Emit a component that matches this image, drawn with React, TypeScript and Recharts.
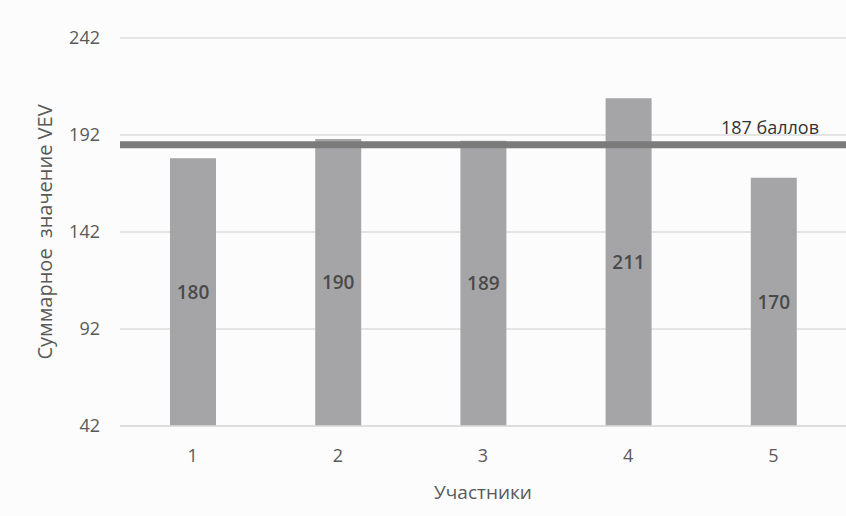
import { BarChart, Bar, XAxis, YAxis, CartesianGrid, ReferenceLine, LabelList } from "recharts";

const participants = ["1", "2", "3", "4", "5"];
const vevTotals = [180, 190, 189, 211, 170];
const yTicks = [42, 92, 142, 192, 242];
const thresholdScore = 187;

const FONT = "'Open Sans', 'DejaVu Sans', sans-serif";

const chartData = participants.map((participant, i) => ({
  participant,
  total: vevTotals[i],
}));

const renderXTitle = ({ viewBox }: any) => (
  <text
    x={viewBox.x + viewBox.width / 2}
    y={viewBox.y + 73}
    textAnchor="middle"
    fill="#595959"
    fontSize={19}
    fontFamily={FONT}
  >
    Участники
  </text>
);

const renderYTitle = ({ viewBox }: any) => {
  const x = 52;
  const y = viewBox.y + viewBox.height / 2;
  return (
    <text
      x={x}
      y={y}
      transform={`rotate(-90, ${x}, ${y})`}
      textAnchor="middle"
      fill="#595959"
      fontSize={20}
      fontFamily={FONT}
      style={{ whiteSpace: "pre" }}
    >
      Суммарное  значение VEV
    </text>
  );
};

const renderThresholdLabel = ({ viewBox }: any) => (
  <text
    x={viewBox.x + viewBox.width - 27}
    y={viewBox.y - 11}
    textAnchor="end"
    fill="#333333"
    fontSize={18}
    fontFamily={FONT}
  >
    {`${thresholdScore} баллов`}
  </text>
);

export default function App() {
  return (
    <div style={{ width: 846, height: 516, background: "#fcfcfc" }}>
      <style>{"body{margin:0}"}</style>
      <BarChart
        width={846}
        height={516}
        data={chartData}
        margin={{ top: 38, right: 0, left: 0, bottom: 0 }}
      >
        <CartesianGrid vertical={false} stroke="#dcdcdc" strokeWidth={1.5} />
        <XAxis
          dataKey="participant"
          height={90}
          tickLine={false}
          tickMargin={17}
          axisLine={{ stroke: "#dcdcdc", strokeWidth: 1.5 }}
          tick={{ fill: "#595959", fontSize: 18, fontFamily: FONT }}
          label={renderXTitle}
        />
        <YAxis
          width={120}
          domain={[42, 242]}
          ticks={yTicks}
          axisLine={false}
          tickLine={false}
          tickMargin={14}
          tick={{ fill: "#595959", fontSize: 18, fontFamily: FONT }}
          label={renderYTitle}
        />
        <Bar dataKey="total" fill="#a5a5a7" barSize={46} isAnimationActive={false}>
          <LabelList
            dataKey="total"
            position="center"
            fill="#4a4a4a"
            fontSize={19}
            fontWeight={600}
            fontFamily={FONT}
          />
        </Bar>
        <ReferenceLine
          y={thresholdScore}
          stroke="#7b7b7b"
          strokeWidth={7}
          label={renderThresholdLabel}
        />
      </BarChart>
    </div>
  );
}
